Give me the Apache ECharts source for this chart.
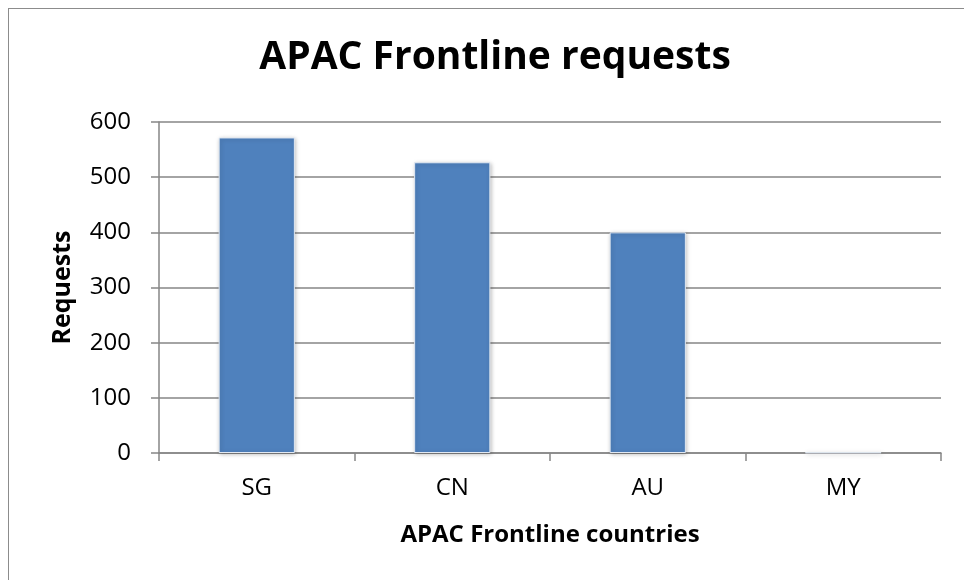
<!DOCTYPE html>
<html>
<head>
<meta charset="utf-8">
<script src="https://cdn.jsdelivr.net/npm/echarts@6/dist/echarts.min.js"></script>
<style>
html,body{margin:0;padding:0;background:#fff;}
#frame{position:absolute;left:8px;top:8px;width:1000px;height:620px;border:1.5px solid #8c8c8c;box-sizing:border-box;}
#chart{position:absolute;left:0;top:0;width:964px;height:580px;}
</style>
</head>
<body>
<div id="frame"></div>
<div id="chart"></div>
<script>
// 数据
var countries = ['SG', 'CN', 'AU', 'MY'];
var requests = [572, 527, 400, 1];
var yTicks = [0, 100, 200, 300, 400, 500, 600];

var chart = echarts.init(document.getElementById('chart'));
var font = '"Open Sans", sans-serif';
chart.setOption({
    backgroundColor: 'transparent',
    animation: false,
    title: {
        text: 'APAC Frontline requests',
        left: 490,
        textAlign: 'center',
        top: 33,
        textStyle: {fontFamily: font, fontSize: 39, fontWeight: 'bold', color: '#000'}
    },
    grid: {left: 159, right: 23, top: 122, bottom: 127},
    xAxis: {
        type: 'category',
        data: countries,
        name: 'APAC Frontline countries',
        nameLocation: 'middle',
        nameGap: 70,
        nameTextStyle: {fontFamily: font, fontSize: 24, fontWeight: 'bold', color: '#000'},
        axisLine: {lineStyle: {color: '#868686', width: 1.5}},
        axisTick: {show: true, alignWithLabel: false, length: 8, lineStyle: {color: '#868686', width: 1.5}},
        axisLabel: {fontFamily: font, fontSize: 24, color: '#000', margin: 23}
    },
    yAxis: {
        type: 'value',
        min: yTicks[0],
        max: yTicks[yTicks.length - 1],
        interval: 100,
        name: 'Requests',
        nameLocation: 'middle',
        nameGap: 84,
        nameRotate: 90,
        nameTextStyle: {fontFamily: font, fontSize: 25, fontWeight: 'bold', color: '#000'},
        axisLine: {show: true, lineStyle: {color: '#868686', width: 1.5}},
        axisTick: {show: true, length: 8, lineStyle: {color: '#868686', width: 1.5}},
        axisLabel: {fontFamily: font, fontSize: 24, color: '#000', margin: 28},
        splitLine: {lineStyle: {color: '#868686', width: 1.5}}
    },
    series: [{
        type: 'bar',
        data: requests,
        barWidth: '39%',
        itemStyle: {
            color: '#4F81BD',
            borderColor: '#e2e9f3',
            borderWidth: 1,
            shadowBlur: 4,
            shadowColor: 'rgba(0,0,0,0.25)',
            shadowOffsetX: 1,
            shadowOffsetY: 1
        }
    }]
});
</script>
</body>
</html>
